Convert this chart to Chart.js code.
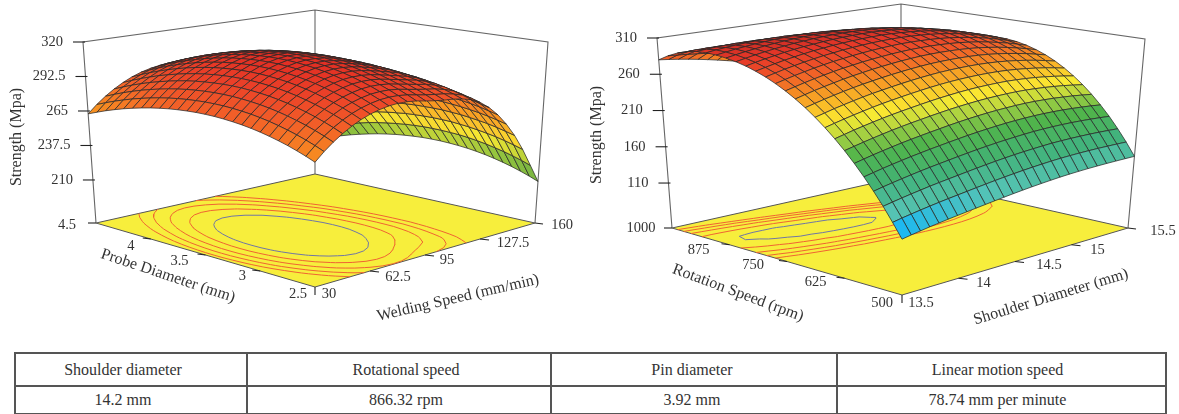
<!DOCTYPE html>
<html><head><meta charset="utf-8">
<script src="https://cdn.jsdelivr.net/npm/chart.js@4"></script>
<style>
html,body{margin:0;padding:0;background:#fff;width:1179px;height:414px;overflow:hidden}
canvas{position:absolute;top:0}
table{position:absolute;left:14px;top:352px;width:1151px;height:61px;border-collapse:collapse;font:16px "Liberation Serif",serif;color:#333;table-layout:fixed}
td{border:2px solid #555;text-align:center;padding:0}
td span{position:relative}
</style></head><body>
<canvas id="plotA" width="590" height="345" style="left:0"></canvas>
<canvas id="plotB" width="589" height="345" style="left:590px"></canvas>
<table id="tbl"></table>
<script>
const tableHeads=["Shoulder diameter","Rotational speed","Pin diameter","Linear motion speed"];
const tableValues=["14.2 mm","866.32 rpm","3.92 mm","78.74 mm per minute"];
const colWidths=[232,304,286,329];
const colShift=[-8,7,-2,-4];

// Plot A: rows = welding speed 30..160, columns = probe diameter 2.5..4.5
const speedTicks=[30,62.5,95,127.5,160];
const probeTicks=[2.5,3,3.5,4,4.5];
const strengthTicksA=[210,237.5,265,292.5,320];
const strengthA=[
[265.7,268.5,271.0,273.3,275.3,277.1,278.7,280.0,281.1,281.9,282.5,282.9,283.0,282.9,282.5,281.9,281.1,280.0,278.7,277.1,275.3,273.3,271.0,268.5,265.7,262.7],
[271.9,274.7,277.2,279.5,281.5,283.3,284.9,286.2,287.3,288.1,288.7,289.1,289.2,289.1,288.7,288.1,287.3,286.2,284.9,283.3,281.5,279.5,277.2,274.7,271.9,268.9],
[277.3,280.1,282.6,284.9,286.9,288.7,290.3,291.6,292.7,293.5,294.1,294.5,294.6,294.5,294.1,293.5,292.7,291.6,290.3,288.7,286.9,284.9,282.6,280.1,277.3,274.3],
[282.0,284.8,287.3,289.6,291.6,293.4,295.0,296.3,297.4,298.2,298.8,299.2,299.3,299.2,298.8,298.2,297.4,296.3,295.0,293.4,291.6,289.6,287.3,284.8,282.0,279.0],
[286.0,288.8,291.3,293.6,295.6,297.4,299.0,300.3,301.4,302.2,302.8,303.2,303.3,303.2,302.8,302.2,301.4,300.3,299.0,297.4,295.6,293.6,291.3,288.8,286.0,283.0],
[289.4,292.2,294.7,297.0,299.0,300.8,302.4,303.7,304.8,305.6,306.2,306.6,306.7,306.6,306.2,305.6,304.8,303.7,302.4,300.8,299.0,297.0,294.7,292.2,289.4,286.4],
[292.0,294.8,297.3,299.6,301.6,303.4,305.0,306.3,307.4,308.2,308.8,309.2,309.3,309.2,308.8,308.2,307.4,306.3,305.0,303.4,301.6,299.6,297.3,294.8,292.0,289.0],
[293.9,296.7,299.2,301.5,303.5,305.3,306.9,308.2,309.3,310.1,310.7,311.1,311.2,311.1,310.7,310.1,309.3,308.2,306.9,305.3,303.5,301.5,299.2,296.7,293.9,290.9],
[295.2,298.0,300.5,302.8,304.8,306.6,308.2,309.5,310.6,311.4,312.0,312.4,312.5,312.4,312.0,311.4,310.6,309.5,308.2,306.6,304.8,302.8,300.5,298.0,295.2,292.2],
[295.7,298.5,301.0,303.3,305.3,307.1,308.7,310.0,311.1,311.9,312.5,312.9,313.0,312.9,312.5,311.9,311.1,310.0,308.7,307.1,305.3,303.3,301.0,298.5,295.7,292.7],
[295.5,298.3,300.8,303.1,305.1,306.9,308.5,309.8,310.9,311.7,312.3,312.7,312.8,312.7,312.3,311.7,310.9,309.8,308.5,306.9,305.1,303.1,300.8,298.3,295.5,292.5],
[294.6,297.4,299.9,302.2,304.2,306.0,307.6,308.9,310.0,310.8,311.4,311.8,311.9,311.8,311.4,310.8,310.0,308.9,307.6,306.0,304.2,302.2,299.9,297.4,294.6,291.6],
[293.1,295.9,298.4,300.7,302.7,304.5,306.1,307.4,308.5,309.3,309.9,310.3,310.4,310.3,309.9,309.3,308.5,307.4,306.1,304.5,302.7,300.7,298.4,295.9,293.1,290.1],
[291.8,294.5,297.0,299.2,301.1,302.8,304.4,305.6,306.7,307.4,308.0,308.3,308.4,308.2,307.8,307.2,306.3,305.2,303.9,302.3,300.4,298.4,296.1,293.6,290.8,287.8],
[290.8,293.4,295.7,297.7,299.5,301.1,302.5,303.7,304.6,305.2,305.7,305.9,305.9,305.7,305.2,304.5,303.6,302.4,301.0,299.4,297.5,295.5,293.1,290.6,287.8,284.8],
[290.1,292.4,294.5,296.4,298.0,299.3,300.6,301.5,302.3,302.8,303.1,303.2,303.0,302.7,302.0,301.3,300.3,299.0,297.5,295.8,293.9,291.8,289.5,286.9,284.1,281.1],
[288.7,290.8,292.7,294.3,295.7,296.9,297.9,298.7,299.3,299.6,299.7,299.7,299.4,299.0,298.2,297.3,296.3,294.9,293.3,291.6,289.7,287.5,285.1,282.5,279.7,276.7],
[286.7,288.5,290.2,291.7,292.8,293.8,294.7,295.2,295.7,295.8,295.8,295.6,295.2,294.7,293.8,292.8,291.7,290.2,288.5,286.7,284.8,282.5,280.1,277.5,274.7,271.7],
[282.9,284.6,286.1,287.4,288.4,289.3,290.0,290.5,290.9,290.8,290.7,290.4,290.0,289.3,288.4,287.3,286.1,284.6,282.9,281.0,279.1,276.8,274.3,271.7,268.9,265.9],
[277.4,279.0,280.5,281.7,282.7,283.4,284.1,284.5,284.9,284.8,284.6,284.3,283.8,283.1,282.1,281.0,279.8,278.2,276.5,274.6,272.6,270.3,267.9,265.2,262.4,259.4],
[270.2,271.8,273.3,274.5,275.5,276.2,276.9,277.3,277.7,277.6,277.4,277.1,276.6,275.9,274.9,273.8,272.6,271.0,269.3,267.4,265.4,263.1,260.7,258.0,255.2,252.2],
[261.3,263.0,264.5,265.8,266.8,267.7,268.4,268.9,269.3,269.2,269.1,268.8,268.4,267.7,266.8,265.7,264.5,263.0,261.3,259.4,257.5,255.2,252.7,250.1,247.3,244.3],
[250.7,252.5,254.2,255.7,256.8,257.8,258.7,259.2,259.7,259.8,259.8,259.6,259.2,258.7,257.8,256.8,255.7,254.2,252.5,250.7,248.8,246.5,244.1,241.5,238.7,235.7],
[238.0,240.1,242.0,243.7,245.1,246.3,247.4,248.2,248.9,249.2,249.4,249.3,249.1,248.7,247.9,247.1,246.0,244.7,243.1,241.3,239.4,237.3,234.9,232.3,229.5,226.5],
[223.5,226.0,228.2,230.2,231.9,233.5,234.8,235.9,236.8,237.3,237.7,237.9,237.9,237.6,237.1,236.3,235.4,234.2,232.8,231.1,229.3,227.2,224.8,222.3,219.5,216.5],
[208.8,211.6,214.1,216.4,218.4,220.2,221.8,223.1,224.2,225.0,225.6,226.0,226.1,226.0,225.6,225.0,224.2,223.1,221.8,220.2,218.4,216.4,214.1,211.6,208.8,205.8]
];
const contourLevelsA=[286,291,296,301,306];

// Plot B: rows = shoulder diameter 13.5..15.5, columns = rotation speed 500..1000
const shoulderTicks=[13.5,14,14.5,15,15.5];
const rotationTicks=[500,625,750,875,1000];
const strengthTicksB=[110,160,210,260,310];
const strengthB=[
[118.0,136.0,153.2,169.3,184.6,198.9,212.4,224.8,236.4,247.0,256.8,265.5,273.4,280.3,286.4,291.4,295.6,298.8,301.1,302.5,303.0,302.1,299.3,294.7,288.2,279.9],
[120.2,138.3,155.4,171.6,186.8,201.1,214.5,226.9,238.5,249.0,258.7,267.4,275.1,282.0,287.9,292.8,296.9,299.9,302.1,303.3,303.7,302.3,299.2,294.1,287.2,278.4],
[122.2,140.3,157.5,173.7,189.0,203.3,216.6,229.1,240.5,251.1,260.6,269.3,276.9,283.7,289.5,294.3,298.2,301.1,303.1,304.2,304.1,302.4,298.8,293.3,285.9,276.7],
[124.2,142.3,159.5,175.7,191.0,205.3,218.6,231.0,242.4,252.9,262.4,270.9,278.5,285.1,290.8,295.5,299.2,302.0,303.8,304.7,304.4,302.3,298.3,292.4,284.5,274.7],
[126.0,144.2,161.4,177.6,192.9,207.2,220.5,232.9,244.2,254.7,264.1,272.5,280.0,286.6,292.1,296.7,300.3,302.9,304.6,305.2,304.6,302.1,297.6,291.2,282.8,272.5],
[127.8,146.0,163.3,179.5,194.8,209.1,222.4,234.7,246.0,256.4,265.7,274.1,281.5,287.9,293.3,297.7,301.2,303.6,305.1,305.5,304.5,301.6,296.6,289.8,280.9,270.1],
[129.4,147.7,165.0,181.2,196.5,210.8,224.1,236.4,247.7,258.0,267.2,275.5,282.8,289.1,294.4,298.7,302.0,304.3,305.5,305.8,304.4,301.0,295.6,288.2,278.8,267.4],
[131.0,149.3,166.6,182.9,198.2,212.4,225.7,237.9,249.1,259.3,268.5,276.7,283.9,290.0,295.2,299.3,302.4,304.6,305.7,305.7,303.9,300.1,294.2,286.3,276.4,264.5],
[132.6,150.9,168.2,184.5,199.8,214.0,227.2,239.4,250.6,260.7,269.9,278.0,285.1,291.1,296.2,300.2,303.1,305.1,305.9,305.6,303.4,299.1,292.7,284.3,273.9,261.4],
[134.2,152.6,169.9,186.2,201.4,215.6,228.8,240.9,252.0,262.1,271.1,279.1,286.1,292.0,296.9,300.7,303.5,305.3,306.0,305.3,302.6,297.9,291.0,282.1,271.1,258.1],
[135.8,154.2,171.5,187.8,203.0,217.2,230.3,242.4,253.4,263.4,272.3,280.2,287.0,292.8,297.5,301.2,303.8,305.4,305.9,304.9,301.7,296.5,289.1,279.7,268.1,254.5],
[137.4,155.8,173.1,189.4,204.6,218.7,231.8,243.8,254.7,264.6,273.4,281.2,287.9,293.5,298.1,301.6,304.0,305.4,305.7,304.2,300.6,294.8,287.0,277.0,264.9,250.6],
[138.9,157.3,174.6,190.8,206.0,220.1,233.1,245.0,255.9,265.7,274.4,282.0,288.6,294.1,298.5,301.8,304.1,305.2,305.2,303.3,299.2,293.0,284.6,274.0,261.4,246.5],
[140.3,158.7,176.0,192.2,207.3,221.4,234.3,246.2,257.0,266.7,275.3,282.8,289.2,294.6,298.8,302.0,304.1,304.9,304.6,302.2,297.6,290.9,282.0,270.9,257.6,242.2],
[141.6,160.0,177.3,193.4,208.5,222.5,235.4,247.2,257.8,267.4,275.9,283.3,289.5,294.7,298.8,301.7,303.6,304.4,303.7,300.8,295.8,288.5,279.0,267.4,253.5,237.4],
[142.8,161.2,178.4,194.5,209.6,223.5,236.3,248.0,258.5,268.0,276.3,283.6,289.7,294.7,298.6,301.4,303.1,303.6,302.5,299.1,293.6,285.8,275.8,263.5,249.1,232.4],
[143.9,162.2,179.4,195.5,210.5,224.3,237.0,248.6,259.1,268.4,276.6,283.7,289.7,294.5,298.2,300.8,302.2,302.6,301.0,297.2,291.1,282.8,272.2,259.4,244.3,227.0],
[144.9,163.2,180.3,196.4,211.2,225.0,237.6,249.1,259.4,268.6,276.7,283.6,289.4,294.1,297.6,300.0,301.2,301.2,299.2,294.9,288.3,279.4,268.3,254.9,239.2,221.2],
[145.7,164.0,181.1,197.0,211.8,225.5,238.0,249.4,259.6,268.6,276.6,283.3,289.0,293.4,296.8,298.9,299.9,299.6,297.1,292.2,285.1,275.7,264.0,250.0,233.7,215.2],
[146.3,164.5,181.5,197.4,212.1,225.7,238.1,249.3,259.4,268.3,276.1,282.7,288.1,292.4,295.5,297.5,298.3,297.6,294.5,289.2,281.6,271.6,259.3,244.7,227.8,208.6],
[146.8,164.9,181.8,197.6,212.2,225.6,237.9,249.0,258.9,267.7,275.3,281.7,287.0,291.1,294.0,295.8,296.3,295.1,291.6,285.8,277.6,267.1,254.3,239.1,221.5,201.7],
[147.1,165.1,181.9,197.6,212.1,225.4,237.5,248.5,258.2,266.8,274.2,280.5,285.5,289.4,292.1,293.6,294.0,292.3,288.3,281.9,273.2,262.2,248.8,233.0,214.9,194.4],
[147.3,165.2,181.9,197.4,211.7,224.8,236.8,247.6,257.2,265.6,272.8,278.9,283.7,287.4,289.9,291.2,291.2,289.1,284.6,277.7,268.5,256.9,242.9,226.6,207.9,186.8],
[147.4,165.1,181.7,197.0,211.2,224.2,236.0,246.5,256.0,264.2,271.2,277.0,281.7,285.1,287.4,288.4,288.1,285.5,280.5,273.1,263.3,251.2,236.7,219.8,200.5,178.9],
[147.4,165.0,181.3,196.5,210.5,223.2,234.8,245.2,254.4,262.4,269.2,274.8,279.2,282.4,284.4,285.3,284.5,281.4,275.9,268.1,257.8,245.1,230.1,212.7,192.9,170.7],
[147.3,164.7,180.8,195.8,209.5,222.1,233.5,243.6,252.6,260.4,267.0,272.4,276.6,279.6,281.4,282.0,280.8,277.2,271.2,262.9,252.1,238.9,223.4,205.4,185.1,162.3]
];
const contourLevelsB=[285,290,295,300,304.2];

// ---- view layouts (projection anchors & text placement) ----
const viewA={
  canvas:'plotA',xr:[0,590],lift:5,
  floor:{F:[315,287],R:[535,223],L:[96,223],B:[315,174]},
  top:{F:[315,87],R:[548,42],L:[83,42],B:[315,10]},
  zr:[175.7,320],
  colors:[[205,90,165,70],[226,150,197,62],[240,245,230,50],[250,250,200,45],[265,248,150,32],[285,242,95,40],[300,235,65,40],[313,225,45,35]],
  surface:strengthA,levels:contourLevelsA,
  uTicks:speedTicks,vTicks:probeTicks,zTicks:strengthTicksA,
  uDom:[30,160],vDom:[2.5,4.5],
  uOff:[[14,7],[28,6],[22,5],[33,4],[27,2]],
  vOff:[[-17,7],[-18,5],[-26,6],[-20,7],[-29,2]],
  zGap:10,
  titles:[
    {t:'Strength (Mpa)',x:17,y:137,a:-90},
    {t:'Probe Diameter (mm)',x:168,y:276,a:18.5},
    {t:'Welding Speed (mm/min)',x:458,y:298,a:-13}
  ]
};
const viewB={
  canvas:'plotB',xr:[590,1179],lift:8,
  floor:{F:[902,295],R:[1128,228],L:[672,228],B:[901,177]},
  top:{F:[902,86],R:[1145,39],L:[657,38],B:[901,4]},
  zr:[48,310],
  colors:[[118,40,145,215],[128,30,185,240],[145,85,195,180],[175,65,178,120],[205,80,180,75],[225,170,210,65],[240,250,235,50],[255,250,190,40],[270,245,140,35],[285,240,90,40],[300,230,55,40],[310,190,40,35]],
  surface:strengthB,levels:contourLevelsB,
  uTicks:shoulderTicks,vTicks:rotationTicks,zTicks:strengthTicksB,
  uDom:[13.5,15.5],vDom:[500,1000],
  uOff:[[19,8],[25,5],[34,4],[26,5],[35,3]],
  vOff:[[-20,8],[-29,4],[-34,4],[-31,5],[-31,0]],
  zGap:10,
  titles:[
    {t:'Strength (Mpa)',x:597,y:135,a:-90},
    {t:'Rotation Speed (rpm)',x:738,y:293,a:20.5},
    {t:'Shoulder Diameter (mm)',x:1051,y:297,a:-17}
  ]
};
const TICKFONT='14.5px "Liberation Serif", serif', TITLEFONT='16px "Liberation Serif", serif', INK='#333';

function bil(c,u,v){return [0,1].map(k=>c.F[k]*(1-u)*(1-v)+c.R[k]*u*(1-v)+c.L[k]*(1-u)*v+c.B[k]*u*v);}
function project(view,u,v,z){
  const t=(z-view.zr[0])/(view.zr[1]-view.zr[0]);
  const a=bil(view.floor,u,v),b=bil(view.top,u,v);
  const crest=view.lift*16*u*(1-u)*v*(1-v)*t;
  return {x:a[0]+(b[0]-a[0])*t,y:a[1]+(b[1]-a[1])*t-crest};
}
function colorAt(stops,z){
  if(z<=stops[0][0])return `rgb(${stops[0].slice(1)})`;
  for(let i=1;i<stops.length;i++){ if(z<=stops[i][0]){
    const a=stops[i-1],b=stops[i],f=(z-a[0])/(b[0]-a[0]);
    return `rgb(${[1,2,3].map(k=>Math.round(a[k]+(b[k]-a[k])*f))})`;}}
  return `rgb(${stops[stops.length-1].slice(1)})`;
}
function lineDs(data,color,width){return {data,showLine:true,fill:false,borderColor:color,borderWidth:width,pointRadius:0,spanGaps:false,tension:0};}

function contourPoints(view,level){
  const Z=view.surface,nu=Z.length-1,nv=Z[0].length-1,pts=[];
  const cross=(a,b,ua,va,ub,vb)=>{
    if((a<level)===(b<level))return null;
    const f=(level-a)/(b-a);
    return project(view,(ua+(ub-ua)*f)/nu,(va+(vb-va)*f)/nv,view.zr[0]);
  };
  for(let i=0;i<nu;i++)for(let j=0;j<nv;j++){
    const a=Z[i][j],b=Z[i+1][j],c=Z[i+1][j+1],d=Z[i][j+1];
    const e=[cross(a,b,i,j,i+1,j),cross(b,c,i+1,j,i+1,j+1),cross(d,c,i,j+1,i+1,j+1),cross(a,d,i,j,i,j+1)].filter(Boolean);
    for(let k=0;k+1<e.length;k+=2){pts.push(e[k],e[k+1],{x:NaN,y:NaN});}
  }
  return pts;
}

function buildDatasets(view){
  const Z=view.surface,nu=Z.length-1,nv=Z[0].length-1,cells=[],ds=[];
  for(let i=0;i<nu;i++)for(let j=0;j<nv;j++){
    const q=[[i,j],[i+1,j],[i+1,j+1],[i,j+1],[i,j]].map(([a,b])=>project(view,a/nu,b/nv,Z[a][b]));
    const m=(Z[i][j]+Z[i+1][j]+Z[i+1][j+1]+Z[i][j+1])/4;
    cells.push({q,m,d:i+j});
  }
  // first dataset is painted last: nearest cells first
  cells.sort((a,b)=>a.d-b.d);
  cells.forEach(c=>ds.push({data:c.q,showLine:true,fill:'shape',backgroundColor:colorAt(view.colors,c.m),
    borderColor:'rgba(40,40,40,0.88)',borderWidth:0.85,pointRadius:0,tension:0}));
  // frame, above the floor but beneath the surface
  const p=(u,v,z)=>project(view,u,v,z),[z0,z1]=view.zr,GR='#666';
  view.levels.forEach((lv,i)=>ds.push(lineDs(contourPoints(view,lv),i===view.levels.length-1?'rgb(112,118,165)':'rgb(240,100,50)',1)));
  const tick=(a,dx,dy)=>[a,{x:a.x+dx,y:a.y+dy}];
  view.uTicks.forEach((t,i)=>{const u=(t-view.uDom[0])/(view.uDom[1]-view.uDom[0]),a=p(u,0,z0);
    ds.push(lineDs(i===0?tick(a,0,8):tick(a,i===view.uTicks.length-1?8:9,1),'#222',1.1));});
  view.vTicks.forEach((t,i)=>{const v=(t-view.vDom[0])/(view.vDom[1]-view.vDom[0]),a=p(0,v,z0);
    if(i>0)ds.push(lineDs(tick(a,-8,i===view.vTicks.length-1?0:-1),'#222',1.1));});
  view.zTicks.forEach(t=>{const a=p(0,1,t);ds.push(lineDs([{x:a.x-10,y:a.y},{x:a.x+2,y:a.y}],'#222',1.1));});
  const frames=[[p(0,1,z0),p(0,1,z1),p(1,1,z1),p(1,0,z1),p(1,0,z0)],[p(1,1,z0),p(1,1,z1)]];
  frames.forEach(f=>ds.push(lineDs(f,GR,1.1)));
  ds.push({data:[p(0,0,z0),p(1,0,z0),p(1,1,z0),p(0,1,z0),p(0,0,z0)],showLine:true,fill:'shape',backgroundColor:'#F7EE3C',borderColor:'#555',borderWidth:1,pointRadius:0,tension:0});
  return ds;
}

function textPlugin(view){
  return {id:'texts',afterDraw(chart){
    const c=chart.ctx,X=v=>chart.scales.x.getPixelForValue(v),Y=v=>chart.scales.y.getPixelForValue(v);
    c.save();c.fillStyle=INK;c.textBaseline='middle';
    const put=(s,x,y,al,rot)=>{c.save();c.translate(X(x),Y(y));if(rot)c.rotate(rot*Math.PI/180);c.textAlign=al;c.fillText(s,0,0);c.restore();};
    c.font=TICKFONT;
    view.zTicks.forEach(t=>{const a=project(view,0,1,t);put(String(t),a.x-10-view.zGap,a.y,'right');});
    view.uTicks.forEach((t,i)=>{const a=project(view,(t-view.uDom[0])/(view.uDom[1]-view.uDom[0]),0,view.zr[0]);
      put(String(t),a.x+view.uOff[i][0],a.y+view.uOff[i][1],'center');});
    view.vTicks.forEach((t,i)=>{const a=project(view,0,(t-view.vDom[0])/(view.vDom[1]-view.vDom[0]),view.zr[0]);
      put(String(t),a.x+view.vOff[i][0],a.y+view.vOff[i][1],'center');});
    c.font=TITLEFONT;
    view.titles.forEach(o=>put(o.t,o.x,o.y,'center',o.a));
    c.restore();
  }};
}

function makeChart(view){
  new Chart(document.getElementById(view.canvas),{
    type:'scatter',
    data:{datasets:buildDatasets(view)},
    plugins:[textPlugin(view)],
    options:{responsive:false,animation:false,events:[],devicePixelRatio:1,
      layout:{padding:0},
      plugins:{legend:{display:false},tooltip:{enabled:false},title:{display:false}},
      scales:{
        x:{type:'linear',display:false,min:view.xr[0],max:view.xr[1]},
        y:{type:'linear',display:false,min:0,max:345,reverse:true}
      }}
  });
}
makeChart(viewA);makeChart(viewB);

const cell=(s,i)=>`<td><span style="left:${colShift[i]}px">${s}</span></td>`;
document.getElementById('tbl').innerHTML='<colgroup>'+colWidths.map(w=>`<col style="width:${w}px">`).join('')+'</colgroup>'+
 '<tr style="height:33px">'+tableHeads.map(cell).join('')+'</tr>'+
 '<tr style="height:28px">'+tableValues.map(cell).join('')+'</tr>';
</script>
</body></html>
